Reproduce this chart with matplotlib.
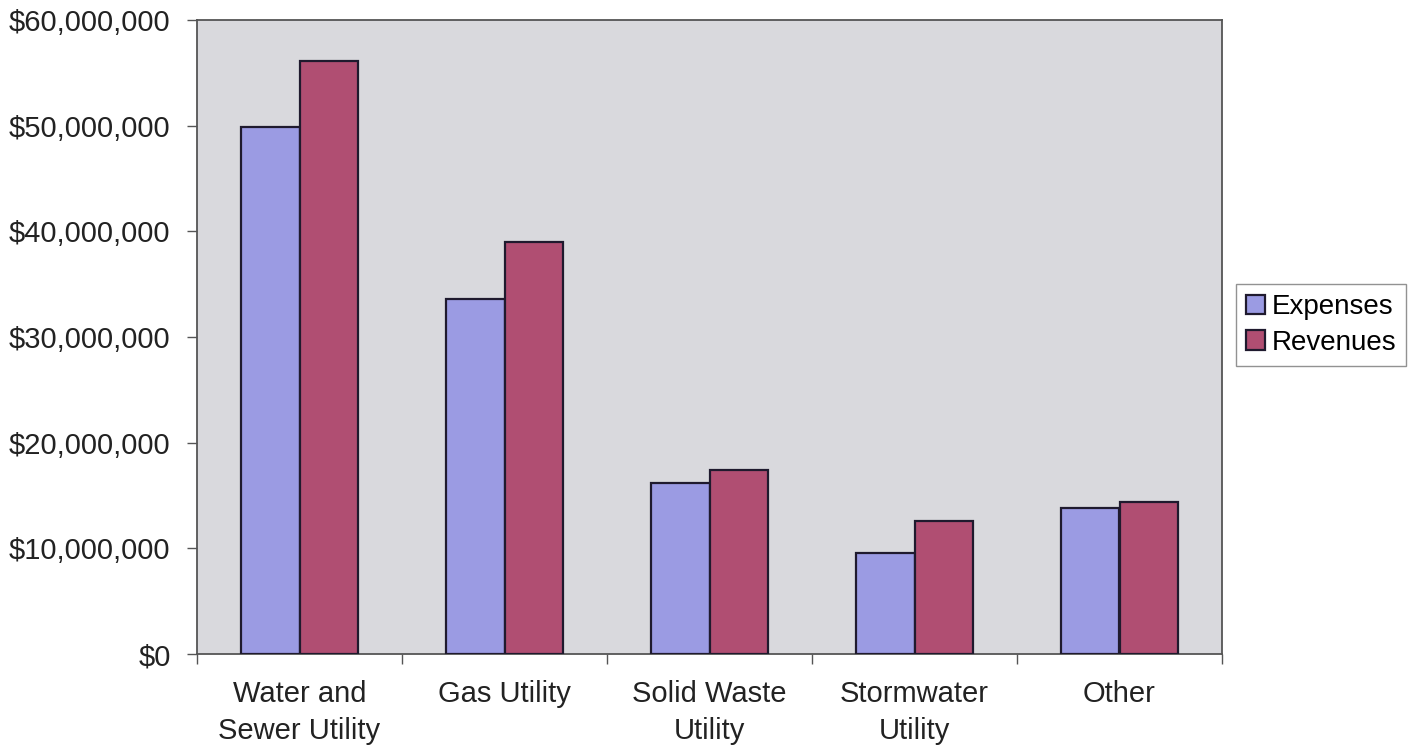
import matplotlib
matplotlib.use("Agg")
import matplotlib.pyplot as plt
import numpy as np
from matplotlib.ticker import FuncFormatter, FixedLocator

categories = ["Water and\nSewer Utility", "Gas Utility", "Solid Waste\nUtility",
              "Stormwater\nUtility", "Other"]
expenses = [49.9e6, 33.6e6, 16.2e6, 9.6e6, 13.8e6]
revenues = [56.1e6, 39.0e6, 17.4e6, 12.6e6, 14.4e6]
series_names = ["Expenses", "Revenues"]
y_ticks = [0, 10e6, 20e6, 30e6, 40e6, 50e6, 60e6]

plt.rcParams["font.family"] = ["Liberation Sans", "DejaVu Sans"]

fig = plt.figure(figsize=(14.2, 7.5), dpi=100)
ax = fig.add_axes([197 / 1420, 1 - 654 / 750, 1025 / 1420, 634 / 750])
ax.set_facecolor("#d9d9dd")

x = np.arange(len(categories))
w = 0.285
edge = "#1f1a2e"
ax.bar(x - w / 2, expenses, w, color="#9b9be3", edgecolor=edge, linewidth=1.6,
       label=series_names[0], zorder=3)
ax.bar(x + w / 2, revenues, w, color="#b04e72", edgecolor=edge, linewidth=1.6,
       label=series_names[1], zorder=3)

ax.set_xlim(-0.5, len(categories) - 0.5)
ax.set_ylim(0, 60e6)
ax.yaxis.set_major_locator(FixedLocator(y_ticks))
ax.yaxis.set_major_formatter(FuncFormatter(lambda v, p: f"${v:,.0f}"))

# boundary ticks on x, labels centred under each group
ax.xaxis.set_major_locator(FixedLocator(np.arange(len(categories) + 1) - 0.5))
ax.xaxis.set_major_formatter(FuncFormatter(lambda v, p: ""))
ax.xaxis.set_minor_locator(FixedLocator(x))
ax.set_xticklabels(categories, minor=True, linespacing=1.4)
ax.tick_params(axis="x", which="minor", length=0, pad=19, labelsize=21,
               labelcolor="#222222")
ax.tick_params(axis="x", which="major", length=7, width=1, color="#555555",
               direction="out")
ax.tick_params(axis="y", length=7, width=1, color="#555555", direction="out",
               labelsize=21, labelcolor="#222222", pad=12)

for s in ax.spines.values():
    s.set_color("#555555")
    s.set_linewidth(1.3)

fig.legend(loc="center left", bbox_to_anchor=(1236 / 1420, 1 - 325 / 750),
           fontsize=20, frameon=True, fancybox=False, edgecolor="#777777",
           handlelength=0.7, handleheight=0.7, handletextpad=0.25,
           labelspacing=0.35, borderpad=0.35, borderaxespad=0)

fig.savefig("out.png", dpi=100, facecolor="white")
